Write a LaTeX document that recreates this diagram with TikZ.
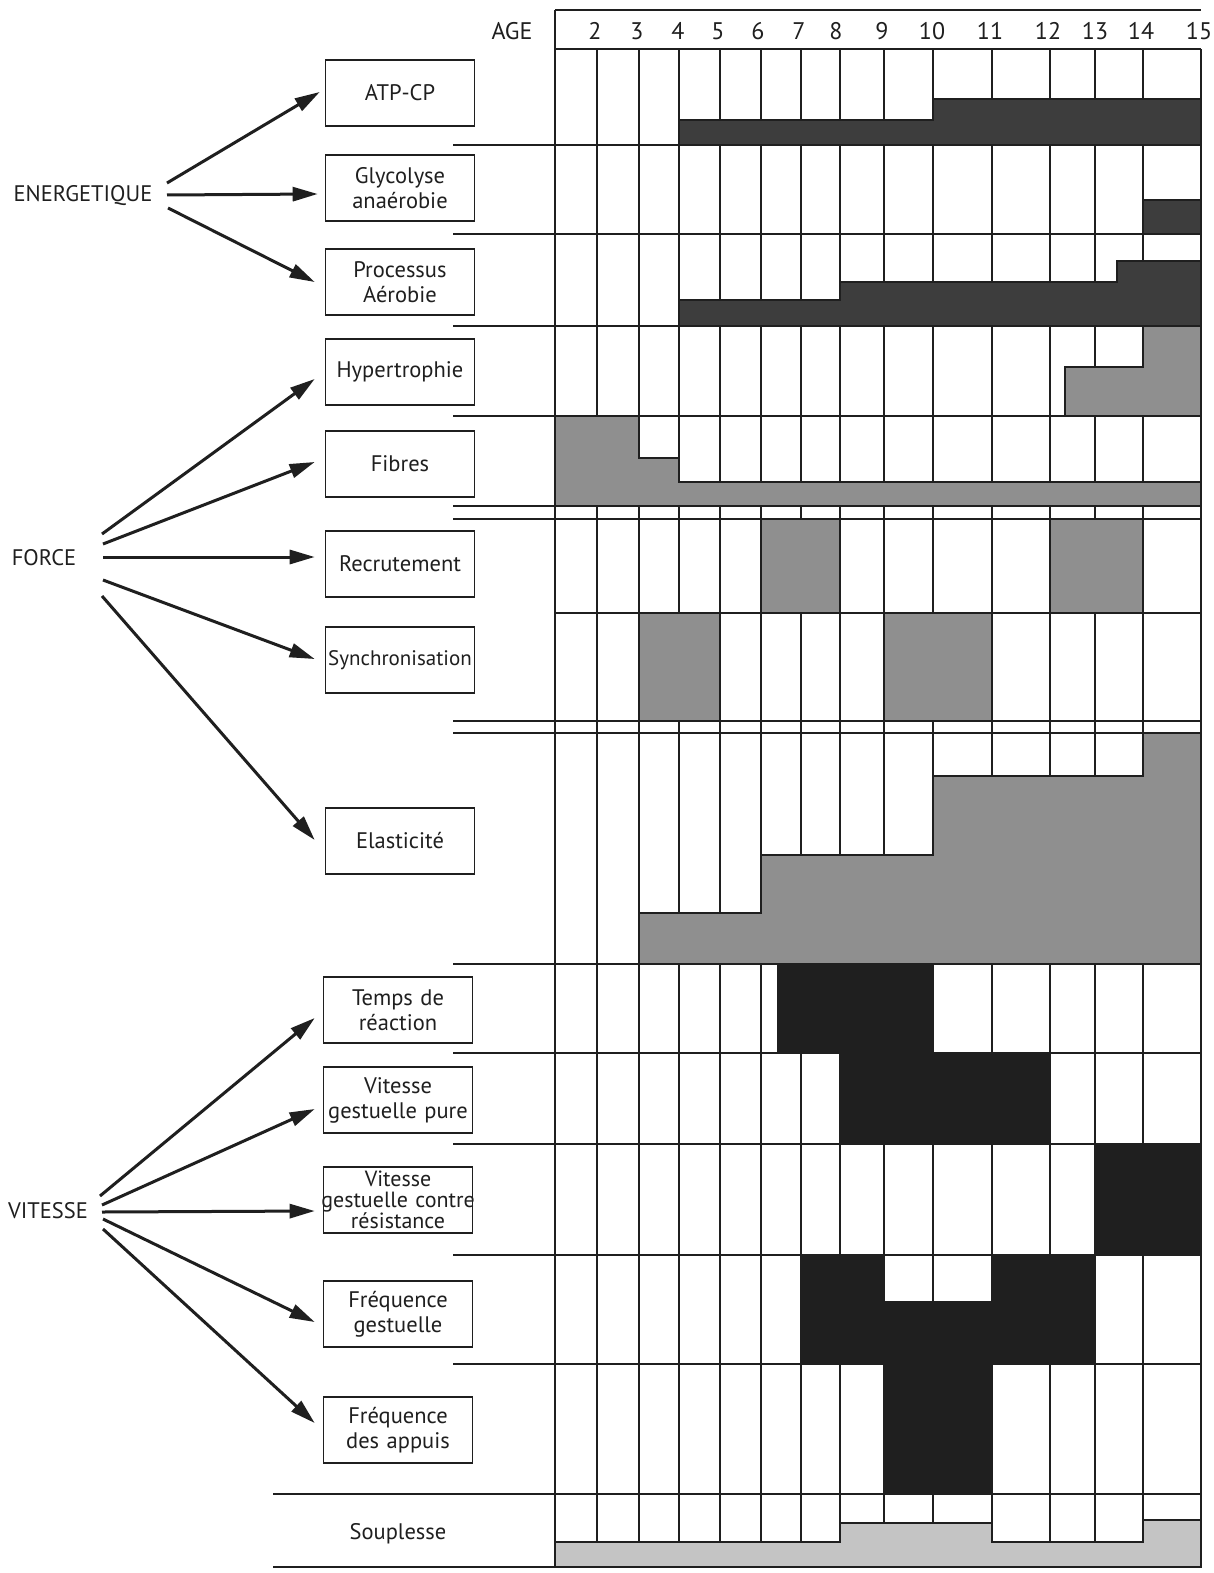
\documentclass[tikz,border=0pt]{standalone}
\usepackage{fontspec}
\setmainfont{PT Sans}
\usetikzlibrary{arrows.meta,calc}
\definecolor{enerc}{gray}{0.24}
\definecolor{forcec}{gray}{0.56}
\definecolor{vitc}{gray}{0.12}
\definecolor{soupc}{gray}{0.77}
\definecolor{inkc}{gray}{0.12}
\begin{document}
\begin{tikzpicture}[x=1pt,y=-1pt,
  txt/.style={font=\fontsize{22.5}{26}\selectfont, inner sep=0pt, text=inkc},
  hdr/.style={font=\fontsize{24}{28}\selectfont, inner sep=0pt, text=inkc},
  box/.style={draw=inkc, line width=1.6pt, text width=145pt, inner sep=2pt, minimum height=66pt, align=center, font=\fontsize{22.5}{25}\selectfont, text=inkc},
  arr/.style={draw=inkc, line width=3pt, -{Triangle[length=25pt,width=14pt]}},
  gline/.style={draw=inkc, line width=1.5pt},
  rowline/.style={draw=inkc, line width=1.8pt},
  cell/.style={draw=inkc, line width=1.5pt}
]
\useasboundingbox (0,0) rectangle (1214,1573);
\fill[white] (0,0) rectangle (1214,1573);

% ---------- vertical grid lines ----------
\draw[gline] (555,10) -- (555,1567);
\draw[gline] (1201,49) -- (1201,1567);
\foreach \x in {597,639,679,720,761,801,840,884,933,992,1050,1095,1143}
  \draw[gline] (\x,49) -- (\x,1567);

% ---------- fills ----------
% ENERGETIQUE rows
\filldraw[cell, fill=enerc] (679,145) -- (679,120) -- (933,120) -- (933,99) -- (1201,99) -- (1201,145) -- cycle;
\filldraw[cell, fill=enerc] (1143,234) -- (1143,200) -- (1201,200) -- (1201,234) -- cycle;
\filldraw[cell, fill=enerc] (679,326) -- (679,300) -- (840,300) -- (840,282) -- (1117,282) -- (1117,261) -- (1201,261) -- (1201,326) -- cycle;
% FORCE rows
\filldraw[cell, fill=forcec] (1065,416) -- (1065,367) -- (1143,367) -- (1143,326) -- (1201,326) -- (1201,416) -- cycle;
\filldraw[cell, fill=forcec] (555,416) -- (639,416) -- (639,458) -- (679,458) -- (679,482) -- (1201,482) -- (1201,506) -- (555,506) -- cycle;
\filldraw[cell, fill=forcec] (761,519) rectangle (840,613);
\filldraw[cell, fill=forcec] (1050,519) rectangle (1143,613);
\filldraw[cell, fill=forcec] (639,613) rectangle (720,721);
\filldraw[cell, fill=forcec] (884,613) rectangle (992,721);
\filldraw[cell, fill=forcec] (639,964) -- (639,913) -- (761,913) -- (761,855) -- (933,855) -- (933,776) -- (1143,776) -- (1143,733) -- (1201,733) -- (1201,964) -- cycle;
% VITESSE rows
\filldraw[cell, fill=vitc] (778,964) rectangle (933,1053);
\filldraw[cell, fill=vitc] (840,1053) rectangle (1050,1144);
\filldraw[cell, fill=vitc] (1095,1144) rectangle (1201,1255);
\filldraw[cell, fill=vitc] (801,1255) -- (884,1255) -- (884,1302) -- (992,1302) -- (992,1255) -- (1095,1255) -- (1095,1364) -- (801,1364) -- cycle;
\filldraw[cell, fill=vitc] (884,1364) rectangle (992,1494);
% SOUPLESSE
\filldraw[cell, fill=soupc] (555,1567) -- (555,1542) -- (840,1542) -- (840,1523) -- (992,1523) -- (992,1542) -- (1143,1542) -- (1143,1520) -- (1201,1520) -- (1201,1567) -- cycle;

% ---------- horizontal lines ----------
\draw[rowline] (555,10) -- (1201,10);
\draw[rowline] (555,49) -- (1201,49);
\foreach \y in {145,234,326,416,506,519,721,733,964,1053,1144,1255,1364}
  \draw[rowline] (453,\y) -- (1201,\y);
\draw[rowline] (555,613) -- (1201,613);
\draw[rowline] (273,1494) -- (1201,1494);
\draw[rowline] (273,1567) -- (1201,1567);

% ---------- header ----------
\node[hdr] (age) at (512,31) {AGE};
\foreach \x/\a in {595/2,637/3,678/4,718/5,758/6,799/7,836/8,882/9,932/10,990/11,1048/12,1095/13,1141/14,1199/15}
  \node[hdr] (a\a) at (\x,31) {\a};

% ---------- boxes ----------
\node[box] (atp) at (400,93) {ATP-CP};
\node[box] (gly) at (400,188) {Glycolyse\\anaérobie};
\node[box] (aer) at (400,282) {Processus\\Aérobie};
\node[box] (hyp) at (400,372) {Hypertrophie};
\node[box] (fib) at (400,464) {Fibres};
\node[box] (rec) at (400,564) {Recrutement};
\node[box, font=\fontsize{21}{25}\selectfont] (syn) at (400,660) {Synchronisation};
\node[box] (ela) at (400,841) {Elasticité};
\node[box] (tem) at (398,1010) {Temps de\\réaction};
\node[box] (vip) at (398,1100) {Vitesse\\\mbox{gestuelle pure}};
\node[box, font=\fontsize{22}{20.5}\selectfont] (vcr) at (398,1200) {Vitesse\\\makebox[145pt]{gestuelle contre}\\résistance};
\node[box] (frg) at (398,1314) {Fréquence\\gestuelle};
\node[box] (fra) at (398,1430) {Fréquence\\des appuis};
\node[txt] (sou) at (398,1534) {Souplesse};

% ---------- category labels ----------
\node[txt] (ener) at (83,196) {ENERGETIQUE};
\node[txt] (force) at (44,558) {FORCE};
\node[txt] (vit) at (48,1211) {VITESSE};

% ---------- arrow starts ----------
\coordinate (e1) at (167,183);
\coordinate (e2) at (167,195);
\coordinate (e3) at (168,208);
\coordinate (f1) at (102,534);
\coordinate (f2) at (103,544);
\coordinate (f3) at (103,557);
\coordinate (f4) at (103,580);
\coordinate (f5) at (102,596);
\coordinate (v1) at (100,1196);
\coordinate (v2) at (102,1205);
\coordinate (v3) at (102,1212);
\coordinate (v4) at (103,1219);
\coordinate (v5) at (103,1229);

% ---------- arrows ----------
\draw[arr] (e1) -- ($(atp.west)+(-5,-1)$);
\draw[arr] (e2) -- ($(gly.west)+(-7,6)$);
\draw[arr] (e3) -- ($(aer.west)+(-10,0)$);
\draw[arr] (f1) -- ($(hyp.west)+(-10,7)$);
\draw[arr] (f2) -- ($(fib.west)+(-10,-2)$);
\draw[arr] (f3) -- ($(rec.west)+(-10,-7)$);
\draw[arr] (f4) -- ($(syn.west)+(-10,-1)$);
\draw[arr] (f5) -- ($(ela.west)+(-10,-1)$);
\draw[arr] (v1) -- ($(tem.west)+(-8,8)$);
\draw[arr] (v2) -- ($(vip.west)+(-8,9)$);
\draw[arr] (v3) -- ($(vcr.west)+(-8,11)$);
\draw[arr] (v4) -- ($(frg.west)+(-8,8)$);
\draw[arr] (v5) -- ($(fra.west)+(-8,-7)$);
\end{tikzpicture}
\end{document}
